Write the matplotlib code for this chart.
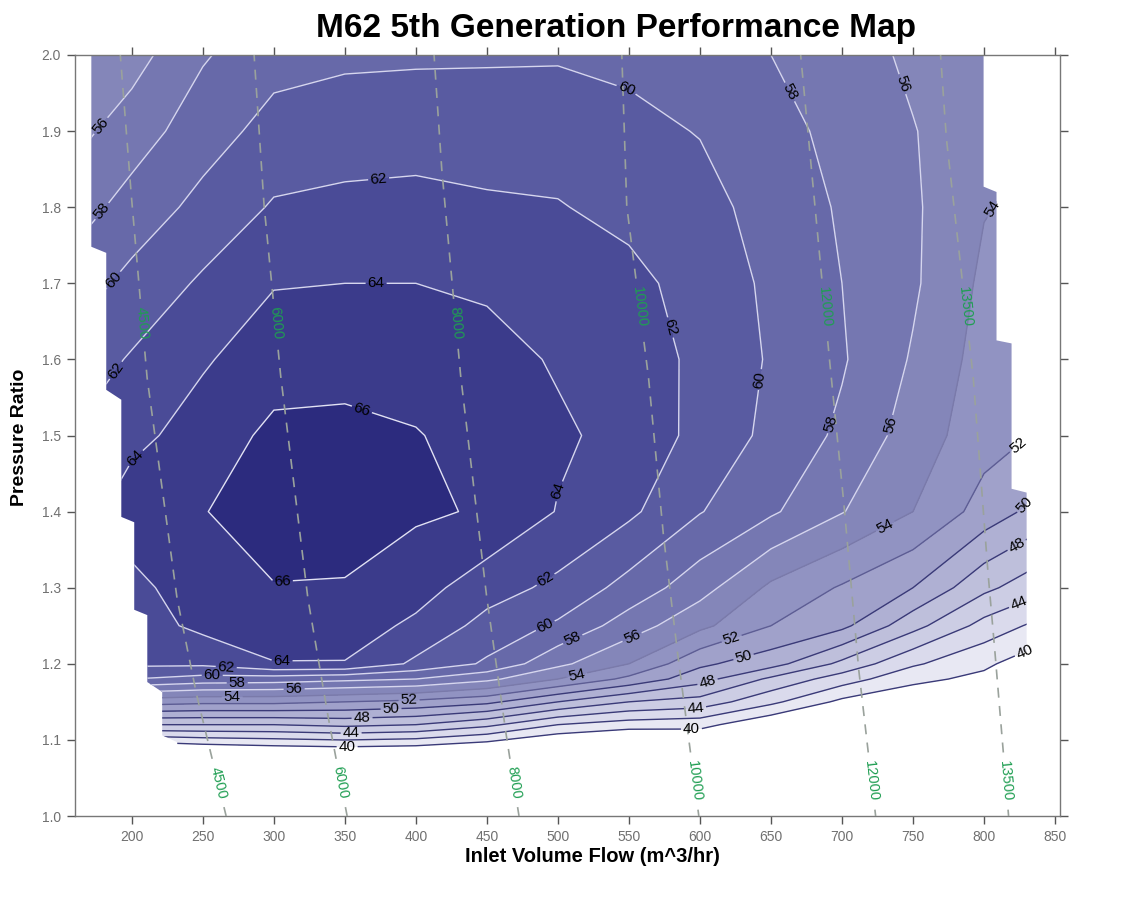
import numpy as np
import matplotlib
matplotlib.use("Agg")
import matplotlib.pyplot as plt
from matplotlib.path import Path
from matplotlib.patches import PathPatch
from matplotlib.colors import ListedColormap, BoundaryNorm
from matplotlib import font_manager

# ---------------- data ----------------
flow_nodes = [165, 200, 250, 300, 350, 400, 450, 500, 550, 600, 650, 700, 750, 800, 840]
pr_nodes = [1.00, 1.06, 1.09, 1.12, 1.15, 1.18, 1.20, 1.25, 1.30, 1.40, 1.50, 1.60, 1.70, 1.80, 1.90, 2.00]

# efficiency (%) along each pressure-ratio row, one value per flow node
eff_pr100 = [28, 30, 30, 30, 30, 30, 30, 30, 30, 31, 31, 31, 31, 31, 31]
eff_pr106 = [33, 34, 35, 35, 35.5, 35, 34.5, 33.5, 33, 33.5, 33, 32, 31, 30, 30]
eff_pr109 = [37, 38, 39, 39.5, 39.8, 39.5, 38.5, 37, 36, 37, 35.5, 35, 34, 33, 32]
eff_pr112 = [44, 46, 46, 46, 46.5, 46, 44.5, 42, 41, 40.7, 38.2, 37, 35.5, 34, 33]
eff_pr115 = [51, 53, 52.5, 52.5, 52, 51.5, 50.5, 48, 46, 45.2, 42.5, 39.5, 38.5, 37, 36]
eff_pr118 = [57, 60, 59.2, 59, 58.5, 58, 56.5, 54, 51.5, 48.8, 45.6, 43, 40.5, 39.5, 37.8]
eff_pr120 = [60, 62.4, 62.4, 63.9, 63.9, 61.6, 59.7, 56.5, 54, 50.4, 48.8, 45.5, 42.3, 40.4, 38.6]
eff_pr125 = [61.5, 63, 64.5, 65.2, 65, 63.6, 61.3, 59.7, 57, 54.5, 52, 50.5, 46.7, 43.3, 41.4]
eff_pr130 = [62.3, 63.5, 65, 65.9, 65.8, 64.8, 62.9, 61.5, 59.3, 56.8, 53.6, 51.8, 50, 46.5, 44.6]
eff_pr140 = [63.3, 65, 65.9, 67.2, 67.3, 66.3, 65.8, 63.9, 62.4, 60.1, 58.3, 56.1, 54, 51.2, 49.2]
eff_pr150 = [62.3, 63.5, 64.8, 66.5, 66.5, 66.1, 65.3, 64.3, 63.4, 61.4, 59.5, 57.6, 55.1, 52.8, 51.8]
eff_pr160 = [61, 62.2, 63.8, 65.0, 65.3, 65.2, 64.7, 63.8, 63.2, 61.5, 59.8, 58.2, 55.8, 53.2, 52.5]
eff_pr170 = [59.2, 60.6, 62.3, 63.9, 64.0, 64.0, 63.7, 63.2, 62.5, 61.3, 59.6, 58.0, 56.3, 53.6, 53.0]
eff_pr180 = [57.3, 58.8, 60.6, 62.2, 62.4, 62.5, 62.3, 62.1, 61.5, 60.8, 59.1, 57.8, 56.3, 54.1, 53.5]
eff_pr190 = [55.6, 57.0, 59.1, 60.7, 61.2, 61.3, 61.0, 61.2, 60.6, 59.9, 58.6, 57.5, 56.1, 54.6, 54.0]
eff_pr200 = [54.3, 55.2, 57.8, 59.3, 59.6, 59.7, 59.8, 59.8, 59.5, 58.8, 58.0, 57.0, 55.6, 55.0, 54.5]

# outline of the mapped region (flow, pressure ratio)
boundary_flow = [171.5, 171.5, 182.0, 182.0, 192.6, 192.6, 201.7, 201.7, 210.9, 210.9,
                 221.4, 221.4, 232.0, 232.0, 830.0, 830.0, 819.4, 819.4, 808.8, 808.8,
                 799.7, 799.7]
boundary_pr = [2.000, 1.748, 1.740, 1.560, 1.547, 1.393, 1.386, 1.271, 1.264, 1.176,
               1.163, 1.106, 1.097, 1.000, 1.000, 1.425, 1.430, 1.621, 1.625, 1.820,
               1.827, 2.000]

# constant-speed lines (rpm) read as (pressure ratio, flow) points
speed_rpm = [4500, 6000, 8000, 10000, 12000, 13500]
speed4500_pr = [2.0, 1.8, 1.573, 1.284, 1.156, 1.0]
speed4500_flow = [191.9, 200.3, 210.9, 232.0, 246.0, 266.4]
speed6000_pr = [2.0, 1.8, 1.573, 1.284, 1.122, 1.0]
speed6000_flow = [286.1, 293.2, 305.1, 324.1, 339.0, 351.6]
speed8000_pr = [2.0, 1.845, 1.573, 1.284, 1.100, 1.0]
speed8000_flow = [412.8, 418.4, 431.8, 450.1, 464.1, 472.6]
speed10000_pr = [2.0, 1.8, 1.573, 1.363, 1.201, 1.0]
speed10000_flow = [545.0, 548.5, 564.0, 574.6, 585.1, 599.2]
speed12000_pr = [2.0, 1.888, 1.582, 1.398, 1.188, 1.0]
speed12000_flow = [670.9, 676.6, 692.1, 702.0, 712.0, 723.7]
speed13500_pr = [2.0, 1.888, 1.573, 1.310, 1.192, 1.0]
speed13500_flow = [769.4, 773.6, 792.6, 803.2, 808.8, 817.3]

fill_levels = [40, 42, 44, 46, 48, 50, 52, 54, 56, 58, 60, 62, 64, 66, 68]
line_levels = [40, 42, 44, 46, 48, 50, 52, 54, 56, 58, 60, 62, 64, 66]
x_ticks = [200, 250, 300, 350, 400, 450, 500, 550, 600, 650, 700, 750, 800, 850]
y_ticks = [1.0, 1.1, 1.2, 1.3, 1.4, 1.5, 1.6, 1.7, 1.8, 1.9, 2.0]

# ---------------- styling / layout ----------------
band_colors = ['#e8e8f3', '#dadaec', '#cccde4', '#bebfdb', '#afb0d3', '#a0a1ca',
               '#9193c2', '#8486b9', '#7577b1', '#6769a9', '#595ba1', '#4a4b97',
               '#3b3b8b', '#2c2b7e']
line_colors = ['#3a3a78', '#3a3a78', '#3a3a78', '#3a3a78', '#3a3a78', '#3a3a78',
               '#5d5d94', '#7a7aaa', '#d6d6ee', '#d6d6ee', '#d6d6ee', '#d6d6ee',
               '#d6d6ee', '#e2e2f4']

# label spots for efficiency contours: (level, flow, pr)
label_spots = [
    (56, 182.0, 1.901), (58, 184.1, 1.787), (60, 187.7, 1.704), (62, 186.2, 1.589),
    (64, 196.8, 1.482), (62, 374.0, 1.833), (64, 372.0, 1.704), (66, 363.5, 1.543),
    (66, 307.2, 1.271), (64, 305.8, 1.198), (62, 266.4, 1.193), (60, 256.6, 1.184),
    (58, 274.2, 1.175), (54, 270.7, 1.156), (56, 314.3, 1.165), (52, 395.2, 1.152),
    (50, 382.5, 1.142), (48, 362.1, 1.129), (44, 354.4, 1.109), (40, 351.6, 1.091),
    (60, 550.0, 1.965), (62, 573.2, 1.639), (64, 504.2, 1.424), (62, 490.2, 1.314),
    (60, 491.6, 1.248), (58, 512.7, 1.223), (56, 554.2, 1.227), (54, 513.4, 1.184),
    (52, 622.0, 1.235), (50, 632.0, 1.200), (48, 606.0, 1.172), (44, 597.0, 1.142),
    (40, 594.0, 1.115), (58, 666.0, 1.954), (56, 735.0, 1.957), (54, 808.0, 1.796),
    (60, 644.2, 1.573), (58, 685.0, 1.520), (56, 733.0, 1.514), (54, 729.3, 1.385),
    (52, 815.9, 1.505), (50, 823.0, 1.419), (48, 823.0, 1.356), (44, 823.0, 1.286),
    (40, 828.0, 1.218),
]
speed_label_upper = [1.648, 1.648, 1.648, 1.669, 1.669, 1.669]
speed_label_lower = [1.044, 1.044, 1.044, 1.046, 1.046, 1.046]

installed = {f.name for f in font_manager.fontManager.ttflist}
base_font = 'Liberation Sans' if 'Liberation Sans' in installed else 'DejaVu Sans'
narrow_font = 'Liberation Sans Narrow' if 'Liberation Sans Narrow' in installed else base_font
plt.rcParams['font.family'] = [base_font, 'DejaVu Sans']

W, H = 1144, 909
fig = plt.figure(figsize=(W / 100, H / 100), dpi=100)
ax = fig.add_axes([75 / W, 93 / H, 985 / W, 761 / H])
ax.set_xlim(160, 853.5)
ax.set_ylim(1.0, 2.0)

X, Y = np.meshgrid(flow_nodes, pr_nodes)
Z = np.array([eff_pr100, eff_pr106, eff_pr109, eff_pr112, eff_pr115, eff_pr118,
              eff_pr120, eff_pr125, eff_pr130, eff_pr140, eff_pr150, eff_pr160,
              eff_pr170, eff_pr180, eff_pr190, eff_pr200], dtype=float)

verts = np.column_stack([boundary_flow + [boundary_flow[0]], boundary_pr + [boundary_pr[0]]])
clip = PathPatch(Path(verts, closed=True), transform=ax.transData,
                 facecolor='none', edgecolor='none')
ax.add_patch(clip)

cmap = ListedColormap(band_colors)
norm = BoundaryNorm(fill_levels, cmap.N)
cf = ax.contourf(X, Y, Z, levels=fill_levels, cmap=cmap, norm=norm, zorder=1)
cf.set_clip_path(clip)

# one line set per level so that each label lands on its own level
for lev, lc in zip(line_levels, line_colors):
    cs = ax.contour(X, Y, Z, levels=[lev], colors=[lc], linewidths=1.0, zorder=2)
    cs.set_clip_path(clip)
    spots = [(fx, fy) for (lv, fx, fy) in label_spots if lv == lev]
    if spots:
        cs.clabel(manual=spots, inline=True, inline_spacing=2, fmt='%d',
                  fontsize=11, colors='black')

# constant-speed lines
speed_pr_all = [speed4500_pr, speed6000_pr, speed8000_pr, speed10000_pr, speed12000_pr, speed13500_pr]
speed_flow_all = [speed4500_flow, speed6000_flow, speed8000_flow, speed10000_flow,
                  speed12000_flow, speed13500_flow]
pr_fine = np.linspace(1.0, 2.0, 600)
for rpm, spr, sfl, up, lo in zip(speed_rpm, speed_pr_all, speed_flow_all,
                                 speed_label_upper, speed_label_lower):
    order = np.argsort(spr)
    p_sorted = np.array(spr)[order]
    f_sorted = np.array(sfl)[order]
    fl = np.interp(pr_fine, p_sorted, f_sorted)
    gap = 0.031 if rpm < 10000 else 0.037
    mask = (np.abs(pr_fine - up) < gap) | (np.abs(pr_fine - lo) < gap)
    ax.plot(np.where(mask, np.nan, fl), pr_fine, ls=(0, (6, 5)), color='#9aa29c',
            lw=1.2, zorder=3)
    for lp in (up, lo):
        xf = np.interp(lp, p_sorted, f_sorted)
        p1 = ax.transData.transform((np.interp(lp + 0.02, p_sorted, f_sorted), lp + 0.02))
        p2 = ax.transData.transform((np.interp(lp - 0.02, p_sorted, f_sorted), lp - 0.02))
        ang = np.degrees(np.arctan2(p2[1] - p1[1], p2[0] - p1[0]))
        ax.text(xf, lp, str(rpm), rotation=ang, rotation_mode='anchor', ha='center',
                va='center', color='#1f9e52', fontsize=10.5, zorder=4)

# axes styling
ax.set_xticks(x_ticks)
ax.set_yticks(y_ticks)
ax.set_xticklabels([str(v) for v in x_ticks], fontfamily=narrow_font)
ax.set_yticklabels(['%.1f' % v for v in y_ticks], fontfamily=narrow_font)
ax.tick_params(direction='out', length=6, width=1, color='#555555', labelcolor='#707070',
               labelsize=10, top=True, right=True, labeltop=False, labelright=False, pad=4)
for s in ax.spines.values():
    s.set_color('#777777')
    s.set_linewidth(1.0)

fig.text(616 / W, 1 - 29 / H, 'M62 5th Generation Performance Map', ha='center',
         va='center', fontsize=24, fontweight='bold')
fig.text(592 / W, 1 - 857 / H, 'Inlet Volume Flow (m^3/hr)', ha='center', va='center',
         fontsize=14.5, fontweight='bold')
fig.text(20 / W, 1 - 437 / H, 'Pressure Ratio', ha='center', va='center',
         rotation=90, fontsize=14, fontweight='bold')

fig.savefig('out.png', dpi=100)
